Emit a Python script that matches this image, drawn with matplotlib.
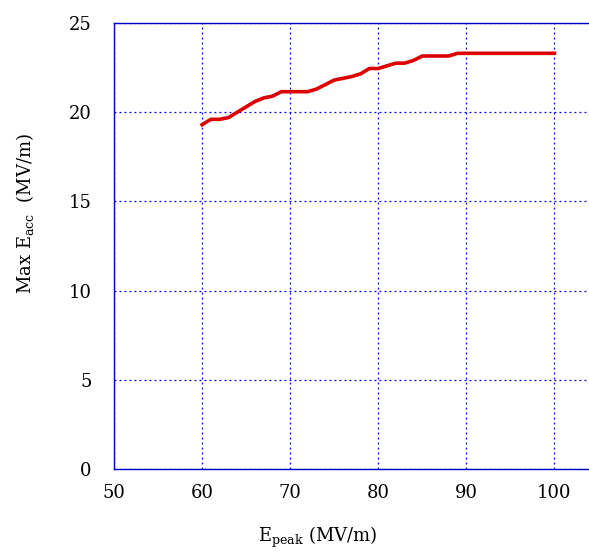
import matplotlib
matplotlib.use('Agg')
import matplotlib.pyplot as plt

# max accelerating gradient vs. peak surface field
e_peak = list(range(60, 101))
max_eacc = [19.3, 19.6, 19.6, 19.7, 20.0, 20.3, 20.6, 20.8, 20.9, 21.15,
            21.15, 21.15, 21.15, 21.3, 21.55, 21.8, 21.9, 22.0, 22.15, 22.45,
            22.45, 22.6, 22.75, 22.75, 22.9, 23.15, 23.15, 23.15, 23.15, 23.3,
            23.3, 23.3, 23.3, 23.3, 23.3, 23.3, 23.3, 23.3, 23.3, 23.3, 23.3]

plt.rcParams['font.family'] = 'DejaVu Serif'
plt.rcParams['mathtext.fontset'] = 'dejavuserif'

fig = plt.figure(figsize=(5.89, 5.53), dpi=100)
ax = fig.add_axes([114/589, 84/553, 475/589 + 0.01, 446/553])

ax.plot(e_peak, max_eacc, color='#dd0000', lw=2.6, zorder=3)

ax.set_xlim(50, 104.6)
ax.set_ylim(0, 25)
ax.set_xticks([50, 60, 70, 80, 90, 100])
ax.set_yticks([0, 5, 10, 15, 20, 25])
ax.grid(True, color='#0000ee', linestyle=(0, (1.5, 2.5)), lw=0.9)

for s in ax.spines.values():
    s.set_color('#0000cc')
    s.set_linewidth(1.0)

ax.tick_params(length=0, labelsize=13)
ax.tick_params(axis='x', pad=11)
ax.tick_params(axis='y', pad=16)

ax.set_xlabel(r'E$_{\mathrm{peak}}$ (MV/m)', fontsize=13)
ax.set_ylabel(r'Max E$_{\mathrm{acc}}$  (MV/m)', fontsize=13)
ax.xaxis.set_label_coords(0.424, -0.124)
ax.yaxis.set_label_coords(-0.162, 0.572)

fig.savefig('out.png', dpi=100)
